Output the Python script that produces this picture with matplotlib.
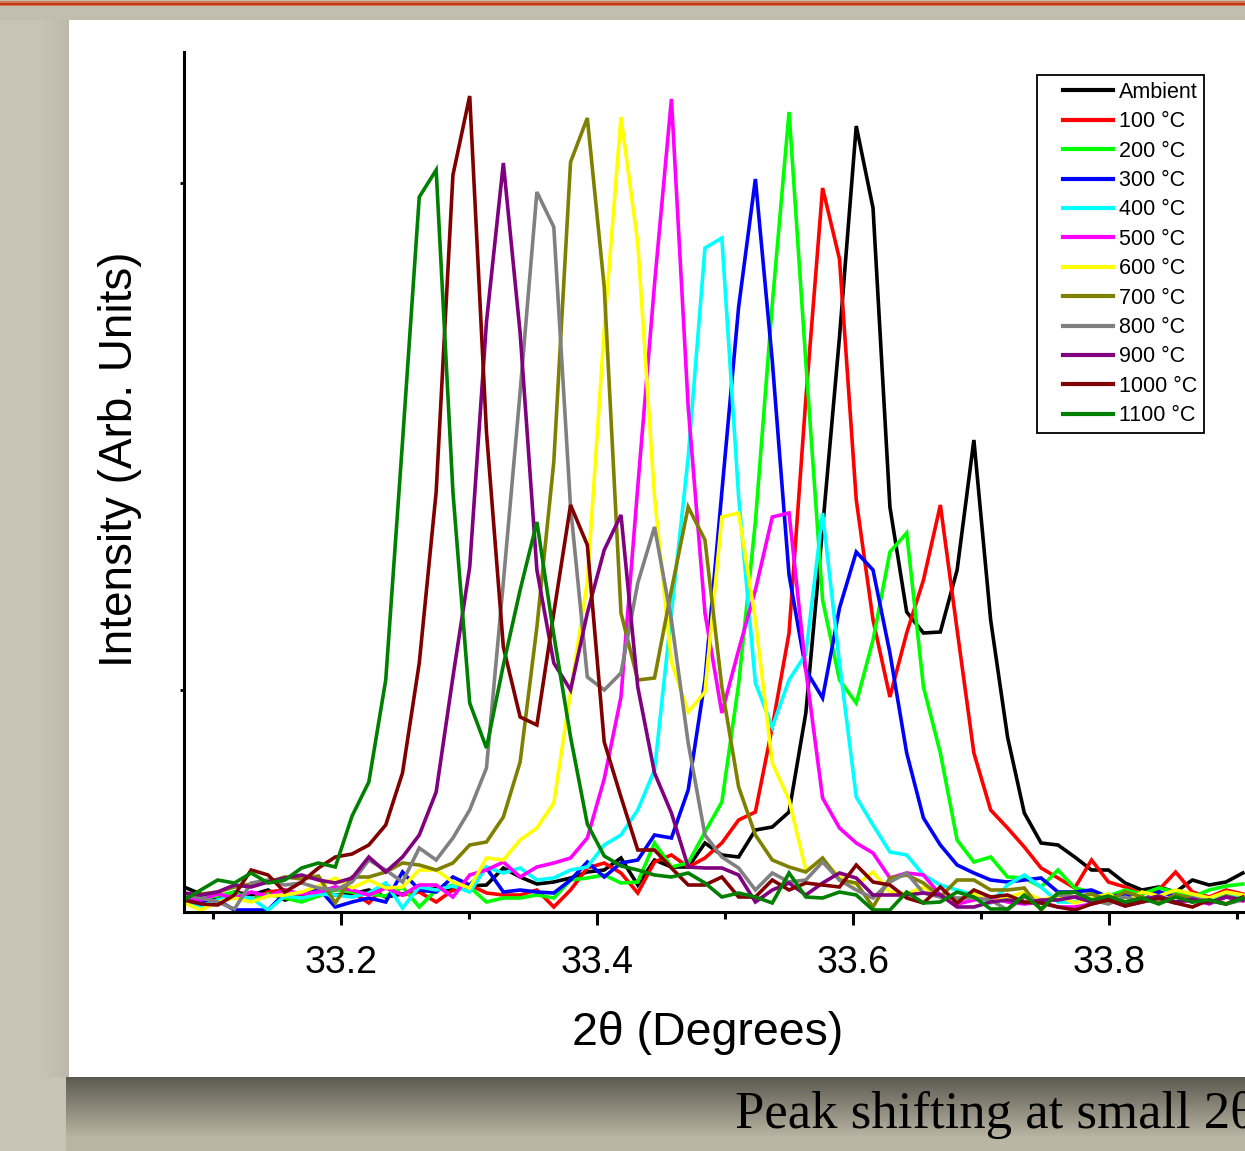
import numpy as np
import matplotlib
matplotlib.use("Agg")
import matplotlib.pyplot as plt
from matplotlib.patches import Rectangle
from matplotlib.legend_handler import HandlerLine2D

# ---------------- data (2theta scan grid, intensity in arb. units) ----------------
two_theta = [33.0771, 33.0902, 33.1034, 33.1165, 33.1296, 33.1428, 33.1559, 33.1690,
             33.1821, 33.1953, 33.2084, 33.2215, 33.2347, 33.2478, 33.2609, 33.2741,
             33.2872, 33.3003, 33.3134, 33.3266, 33.3397, 33.3528, 33.3660, 33.3791,
             33.3922, 33.4054, 33.4185, 33.4316, 33.4447, 33.4579, 33.4710, 33.4841,
             33.4973, 33.5104, 33.5235, 33.5367, 33.5498, 33.5629, 33.5760, 33.5892,
             33.6023, 33.6154, 33.6286, 33.6417, 33.6548, 33.6680, 33.6811, 33.6942,
             33.7073, 33.7205, 33.7336, 33.7467, 33.7599, 33.7730, 33.7861, 33.7993,
             33.8124, 33.8255, 33.8386, 33.8518, 33.8649, 33.8780, 33.8912, 33.9043]

ambient = [25, 18, 14, 20, 17, 22, 12, 16, 20, 17, 18, 22, 15, 18, 20, 24, 22, 26, 27, 44,
           35, 28, 30, 34, 40, 42, 54, 27, 52, 45, 45, 69, 57, 55, 82, 85, 100, 199, 384, 575,
           786, 704, 405, 300, 279, 280, 342, 472, 292, 175, 99, 69, 67, 55, 42, 42, 29, 22,
           25, 20, 32, 27, 30, 39]
t100 = [10, 14, 18, 16, 12, 20, 22, 14, 16, 25, 20, 9, 27, 17, 20, 10, 22, 27, 19, 17,
        17, 22, 5, 22, 44, 49, 39, 19, 50, 57, 45, 54, 69, 92, 100, 185, 279, 513, 724, 653,
        412, 292, 215, 279, 332, 407, 282, 159, 102, 84, 65, 44, 34, 24, 52, 30, 25, 18,
        22, 40, 20, 15, 22, 18]
t200 = [18, 14, 16, 20, 12, 18, 14, 10, 16, 22, 20, 18, 16, 25, 5, 22, 27, 25, 10, 14,
        14, 17, 14, 32, 34, 37, 29, 30, 69, 45, 49, 80, 110, 228, 390, 608, 800, 550, 312, 232,
        209, 272, 360, 379, 225, 159, 72, 50, 55, 35, 34, 25, 42, 24, 20, 16, 22, 18,
        24, 20, 15, 22, 26, 28]
t300 = [15, 10, 12, 2, 2, 2, 19, 19, 24, 5, 10, 14, 10, 40, 22, 20, 35, 27, 44, 20,
        22, 20, 19, 32, 50, 35, 49, 52, 77, 74, 122, 232, 420, 605, 733, 551, 337, 242, 214, 304,
        360, 342, 259, 159, 94, 67, 47, 39, 32, 30, 32, 34, 20, 20, 22, 15, 18, 12,
        20, 16, 10, 14, 18, 12]
t400 = [10, 6, 12, 16, 14, 2, 16, 14, 18, 17, 15, 19, 29, 4, 25, 22, 26, 20, 45, 39,
        44, 32, 34, 42, 45, 67, 77, 102, 142, 299, 455, 664, 674, 415, 229, 185, 232, 258, 399, 249,
        115, 87, 60, 57, 37, 27, 22, 17, 9, 27, 37, 25, 10, 10, 14, 18, 9, 12,
        16, 10, 15, 12, 18, 14]
t500 = [15, 12, 18, 14, 20, 16, 22, 18, 20, 25, 22, 17, 24, 17, 27, 27, 15, 37, 42, 50,
        35, 45, 49, 54, 74, 133, 215, 425, 628, 813, 505, 299, 199, 262, 322, 395, 399, 242, 114, 84,
        69, 59, 34, 39, 37, 17, 8, 12, 15, 10, 8, 10, 5, 5, 8, 12, 6, 10,
        14, 9, 12, 8, 15, 11]
t600 = [9, 2, 10, 14, 10, 16, 17, 20, 26, 34, 24, 32, 24, 25, 42, 42, 30, 24, 54, 52,
        72, 84, 109, 220, 330, 582, 795, 669, 415, 250, 200, 220, 395, 399, 292, 149, 112, 42, 52, 35,
        27, 40, 20, 18, 25, 15, 12, 18, 10, 14, 20, 12, 16, 9, 14, 18, 10, 20,
        16, 22, 18, 14, 20, 17]
t700 = [15, 18, 20, 25, 28, 30, 35, 33, 36, 9, 35, 35, 40, 49, 47, 42, 49, 67, 70, 95,
        150, 285, 450, 750, 794, 625, 299, 232, 234, 322, 405, 372, 225, 125, 77, 52, 45, 40, 54, 32,
        29, 5, 34, 37, 29, 15, 32, 32, 22, 22, 24, 2, 19, 15, 18, 12, 20, 15,
        10, 17, 14, 9, 16, 12]
t800 = [17, 14, 10, 3, 29, 32, 27, 29, 24, 22, 30, 52, 42, 30, 64, 52, 74, 102, 144, 330,
        520, 720, 685, 405, 235, 222, 239, 329, 385, 292, 169, 77, 55, 44, 22, 39, 30, 32, 50, 32,
        22, 14, 30, 39, 19, 15, 14, 14, 12, 2, 15, 9, 17, 15, 12, 8, 15, 10,
        13, 9, 14, 11, 8, 12]
t900 = [19, 17, 20, 27, 25, 30, 34, 37, 32, 29, 34, 55, 40, 55, 77, 120, 235, 345, 590, 749,
        579, 342, 249, 222, 299, 362, 397, 225, 139, 99, 45, 44, 44, 37, 10, 22, 29, 17, 29, 39,
        34, 17, 17, 17, 19, 17, 5, 5, 10, 12, 9, 12, 12, 15, 10, 14, 8, 12,
        16, 10, 13, 9, 15, 12]
t1000 = [12, 8, 7, 17, 42, 37, 20, 30, 44, 55, 58, 67, 87, 139, 249, 420, 737, 816, 480, 265,
         195, 187, 299, 407, 367, 170, 115, 62, 62, 44, 27, 27, 35, 15, 15, 32, 22, 29, 27, 25,
         47, 30, 27, 14, 9, 25, 9, 22, 15, 17, 10, 9, 5, 2, 8, 12, 6, 10,
         14, 9, 5, 12, 8, 15]
t1100 = [12, 22, 32, 29, 39, 29, 32, 44, 49, 45, 96, 130, 232, 470, 715, 742, 420, 209, 164, 247,
         322, 390, 277, 175, 88, 56, 46, 42, 37, 35, 39, 29, 15, 19, 15, 9, 39, 15, 14, 20,
         17, 2, 2, 20, 9, 10, 20, 15, 3, 3, 17, 3, 19, 20, 12, 16, 10, 14,
         8, 15, 10, 12, 8, 14]

series = [ambient, t100, t200, t300, t400, t500, t600, t700, t800, t900, t1000, t1100]
labels = ["Ambient", "100 \u00b0C", "200 \u00b0C", "300 \u00b0C", "400 \u00b0C", "500 \u00b0C",
          "600 \u00b0C", "700 \u00b0C", "800 \u00b0C", "900 \u00b0C", "1000 \u00b0C", "1100 \u00b0C"]
colors = ["#000000", "#FF0000", "#00FF00", "#0000FF", "#00FFFF", "#FF00FF",
          "#FFFF00", "#808000", "#808080", "#800080", "#800000", "#008000"]
x_major = [33.2, 33.4, 33.6, 33.8]
x_minor = [33.1, 33.3, 33.5, 33.7, 33.9]

# ---------------- figure / slide background ----------------
W, H = 1245, 1151
fig = plt.figure(figsize=(W / 100, H / 100), dpi=100)

img = np.zeros((H, W, 3))
img[:, :] = np.array([200, 196, 181]) / 255.0
# top band and red rule
img[0:20, :] = np.array([194, 189, 174]) / 255.0
img[1:3, :] = np.array([214, 120, 80]) / 255.0
img[3:5, :] = np.array([190, 55, 25]) / 255.0
img[5:6, :] = np.array([214, 120, 80]) / 255.0
# left side shading near the panel
for c in range(40, 69):
    f = (c - 40) / 29.0
    img[20:1077, c] = (np.array([200, 196, 181]) * (1 - 0.06 * f)) / 255.0
# bottom shadow under the panel
dark = np.array([92, 90, 80]) / 255.0
light = np.array([186, 182, 164]) / 255.0
for r in range(1077, H):
    f = min(1.0, (r - 1077) / 60.0)
    img[r, 66:] = dark * (1 - f) + light * f
fig_bg = fig.add_axes([0, 0, 1, 1], zorder=-10)
fig_bg.imshow(img, aspect="auto", interpolation="nearest", extent=[0, 1, 0, 1])
fig_bg.set_axis_off()

panel = Rectangle((69 / W, (H - 1077) / H), (W - 69) / W + 0.01, (1077 - 20) / H,
                  transform=fig.transFigure, facecolor="white", edgecolor="none", zorder=-5)
fig.add_artist(panel)

# ---------------- main axes ----------------
ax = fig.add_axes([184 / W, (H - 912) / H, (W - 184) / W, 860 / H], zorder=1)
ax.patch.set_visible(False)

for y, lab, col in zip(series, labels, colors):
    ax.plot(two_theta, y, color=col, lw=2.6, label=lab, solid_joinstyle="miter")

ax.set_xlim(33.0771, 33.0771 + (W - 184) / 1280.0)
ax.set_ylim(0, 860)

for s in ("top", "right"):
    ax.spines[s].set_visible(False)
for s in ("left", "bottom"):
    ax.spines[s].set_linewidth(2.2)

ax.set_xticks(x_major)
ax.set_xticks(x_minor, minor=True)
ax.set_xticklabels(["33.2", "33.4", "33.6", "33.8"], fontsize=27, family="Liberation Sans")
ax.tick_params(axis="x", which="major", direction="out", length=9, width=2.2, pad=15)
ax.tick_params(axis="x", which="minor", direction="out", length=5, width=2.2)
ax.set_yticks([222, 729])
ax.set_yticklabels([])
ax.tick_params(axis="y", which="major", direction="out", length=3, width=2)

axw = W - 184
ax.set_xlabel("2\u03b8 (Degrees)", fontsize=33.5, family="Liberation Sans")
ax.xaxis.label.set_va("center")
ax.xaxis.set_label_coords((708 - 184) / axw, (912 - 1033) / 860)
ax.set_ylabel("Intensity (Arb. Units)", fontsize=33, family="Liberation Sans")
ax.yaxis.label.set_va("center")
ax.yaxis.set_label_coords((120 - 184) / axw, (912 - 459) / 860)

leg = ax.legend(loc="upper left", bbox_to_anchor=(1037 / W, (H - 75) / H),
                bbox_transform=fig.transFigure, borderaxespad=0,
                prop={"family": "Liberation Sans", "size": 15.5},
                handlelength=3.23, handletextpad=0.25, labelspacing=0.39,
                borderpad=0.32, fancybox=False, framealpha=1,
                handler_map={matplotlib.lines.Line2D: HandlerLine2D(xpad=0.9)})
leg.get_frame().set_edgecolor("black")
leg.get_frame().set_linewidth(1.3)
for ln in leg.get_lines():
    ln.set_linewidth(3.0)

fig.text(735 / W, (H - 1128) / H, "Peak shifting at small 2\u03b8",
         family="Liberation Serif", fontsize=38, va="baseline", ha="left")

fig.savefig("out.png", dpi=100)
